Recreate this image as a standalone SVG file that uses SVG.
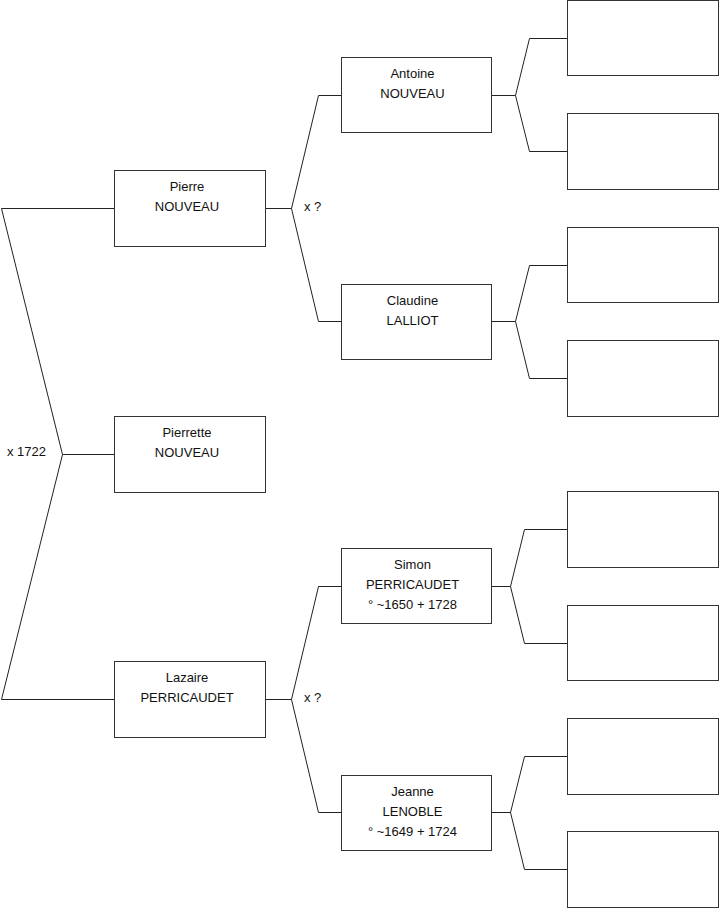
<svg xmlns="http://www.w3.org/2000/svg" width="719" height="908" viewBox="0 0 719 908">
<style>
.box{fill:#fff;stroke:#333;stroke-width:1}
.ln{fill:none;stroke:#222;stroke-width:1}
text{font-family:"Liberation Sans",Arial,sans-serif;font-size:13px;fill:#111}
.c{text-anchor:middle}
</style>
<rect width="719" height="908" fill="#fff"/>
<g id="connectors">
<polyline class="ln" points="114,208.5 1.5,208.5 62.5,454.5 1.5,699.5 114,699.5"/>
<line class="ln" x1="62.5" y1="454.5" x2="114" y2="454.5"/>
<polyline class="ln" points="341,95.5 318.5,95.5 291.5,208.5 318.5,321.5 341,321.5"/>
<line class="ln" x1="265" y1="208.5" x2="291.5" y2="208.5"/>
<polyline class="ln" points="341,586.5 318.5,586.5 291.5,699.5 318.5,812.5 341,812.5"/>
<line class="ln" x1="265" y1="699.5" x2="291.5" y2="699.5"/>
<polyline class="ln" points="567,38.5 529.5,38.5 515.5,95.5 529.5,151.5 567,151.5"/>
<line class="ln" x1="492" y1="95.5" x2="515.5" y2="95.5"/>
<polyline class="ln" points="567,265.5 529.5,265.5 515.5,321.5 529.5,378.5 567,378.5"/>
<line class="ln" x1="492" y1="321.5" x2="515.5" y2="321.5"/>
<polyline class="ln" points="567,529.5 524.5,529.5 510.5,586.5 524.5,643.5 567,643.5"/>
<line class="ln" x1="492" y1="586.5" x2="510.5" y2="586.5"/>
<polyline class="ln" points="567,756.5 524.5,756.5 510.5,812.5 524.5,869.5 567,869.5"/>
<line class="ln" x1="492" y1="812.5" x2="510.5" y2="812.5"/>
<text x="7" y="456">x 1722</text>
<text x="304" y="211">x ?</text>
<text x="304" y="702">x ?</text>
</g>
<g id="pierre"><rect class="box" x="114.5" y="170.5" width="151" height="76"/><text class="c" x="187" y="191">Pierre</text><text class="c" x="187" y="211">NOUVEAU</text></g>
<g id="pierrette"><rect class="box" x="114.5" y="416.5" width="151" height="76"/><text class="c" x="187" y="437">Pierrette</text><text class="c" x="187" y="457">NOUVEAU</text></g>
<g id="lazaire"><rect class="box" x="114.5" y="661.5" width="151" height="76"/><text class="c" x="187" y="682">Lazaire</text><text class="c" x="187" y="702">PERRICAUDET</text></g>
<g id="antoine"><rect class="box" x="341.5" y="57.5" width="150" height="75"/><text class="c" x="412.5" y="78">Antoine</text><text class="c" x="412.5" y="98">NOUVEAU</text></g>
<g id="claudine"><rect class="box" x="341.5" y="284.5" width="150" height="75"/><text class="c" x="412.5" y="305">Claudine</text><text class="c" x="412.5" y="325">LALLIOT</text></g>
<g id="simon"><rect class="box" x="341.5" y="548.5" width="150" height="75"/><text class="c" x="412.5" y="569">Simon</text><text class="c" x="412.5" y="589">PERRICAUDET</text><text class="c" x="412.5" y="609">° ~1650 + 1728</text></g>
<g id="jeanne"><rect class="box" x="341.5" y="775.5" width="150" height="75"/><text class="c" x="412.5" y="796">Jeanne</text><text class="c" x="412.5" y="816">LENOBLE</text><text class="c" x="412.5" y="836">° ~1649 + 1724</text></g>
<g id="g3a"><rect class="box" x="567.5" y="0.5" width="151" height="75"/></g>
<g id="g3b"><rect class="box" x="567.5" y="113.5" width="151" height="76"/></g>
<g id="g3c"><rect class="box" x="567.5" y="227.5" width="151" height="75"/></g>
<g id="g3d"><rect class="box" x="567.5" y="340.5" width="151" height="76"/></g>
<g id="g3e"><rect class="box" x="567.5" y="491.5" width="151" height="76"/></g>
<g id="g3f"><rect class="box" x="567.5" y="605.5" width="151" height="75"/></g>
<g id="g3g"><rect class="box" x="567.5" y="718.5" width="151" height="76"/></g>
<g id="g3h"><rect class="box" x="567.5" y="831.5" width="151" height="76"/></g>
</svg>
